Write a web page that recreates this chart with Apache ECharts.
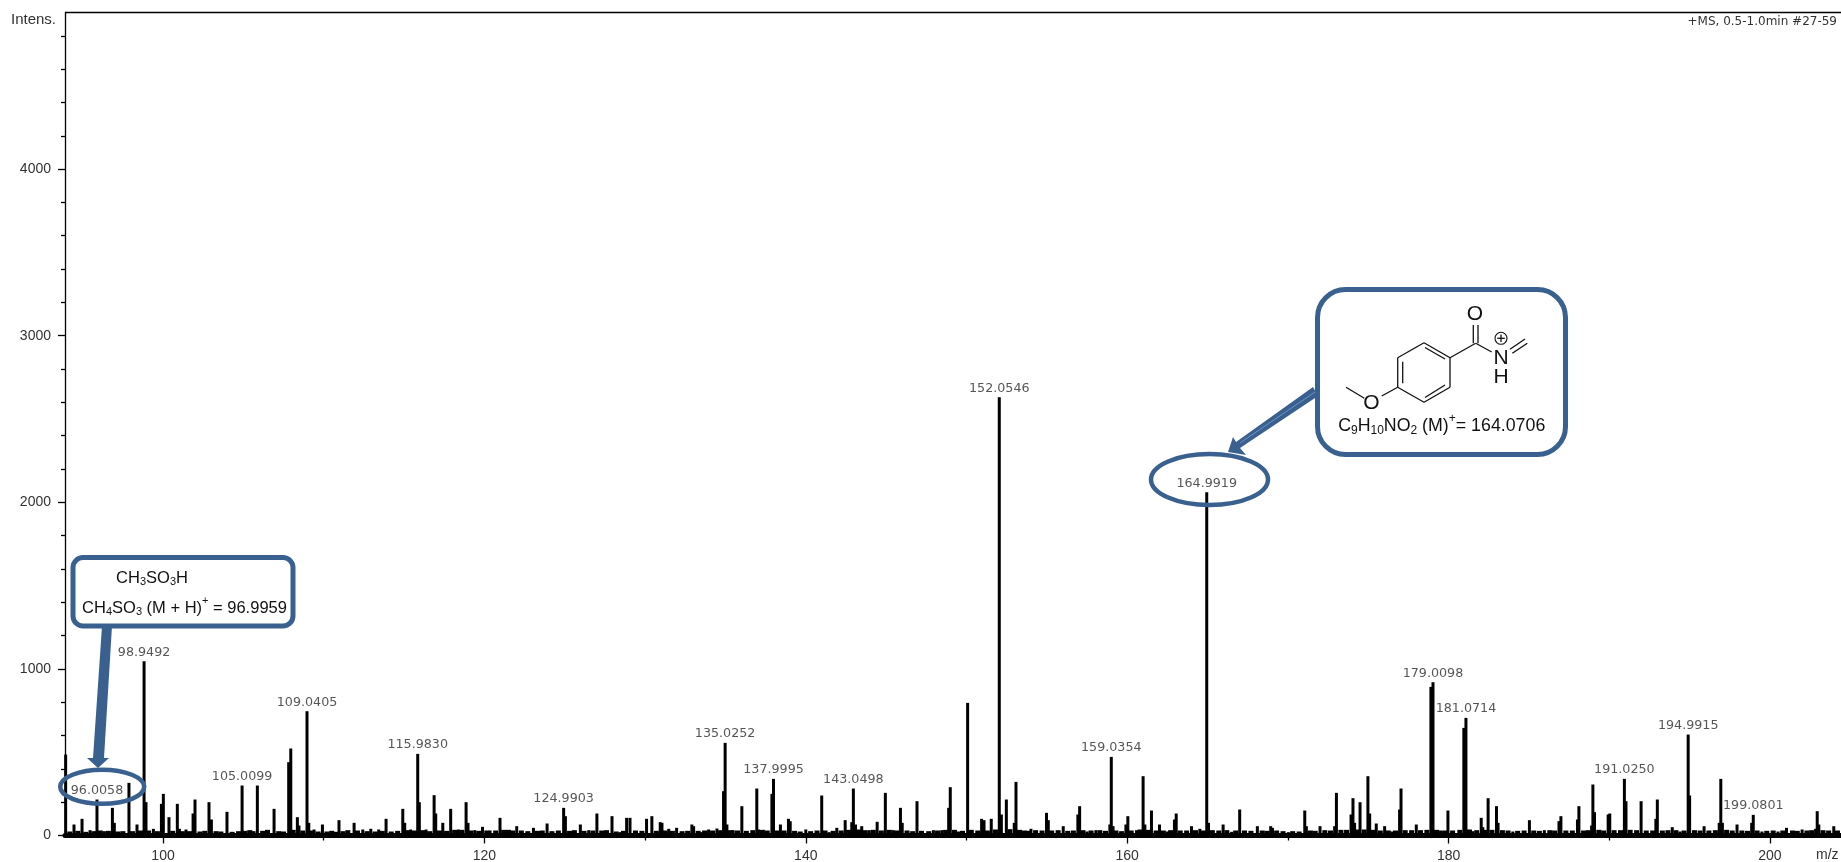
<!DOCTYPE html>
<html>
<head>
<meta charset="utf-8">
<title>MS spectrum</title>
<style>
html, body { margin: 0; padding: 0; background: #fff; }
#chart { width: 1841px; height: 862px; }
</style>
<script src="https://cdn.jsdelivr.net/npm/echarts@6/dist/echarts.min.js"></script>
</head>
<body>
<div id="chart"></div>
<script>
// [m/z, intensity]
const peaks094 = [[93.94,486],[94.46,66],[94.96,100],[95.46,32],[95.89,216],[96.35,26],[96.85,166],[96.97,76],[97.88,316],[98.38,66],[98.82,1046],[98.94,200],[99.4,40],[99.9,190],[100.02,250],[100.37,110],[100.89,190],[101.02,40],[101.43,36],[101.87,132],[101.99,216],[102.86,200],[103.01,96],[103.98,142],[104.92,300],[105.87,300],[106.91,160],[107.82,440],[107.95,522],[108.36,110],[108.46,60],[108.96,746],[109.07,76],[109.4,36],[109.92,66],[110.95,92],[111.89,76],[112.43,36],[112.93,40],[113.42,36],[113.88,100],[114.92,160],[115.04,76],[115.41,36],[115.85,490],[115.95,200],[116.37,36],[116.87,242],[116.97,132],[117.41,76],[117.9,160],[118.38,36],[118.86,200],[118.98,76],[119.4,32],[119.88,52]];
const peaks120 = [[120.35,30],[120.97,106],[122.01,56],[123.05,46],[123.9,72],[124.93,166],[125.04,116],[125.97,66],[126.49,32],[127,132],[127.94,116],[128.45,20],[128.85,106],[129.06,106],[130.09,100],[130.42,116],[130.94,80],[131.05,76],[131.47,40],[131.96,46],[132.91,66],[133.02,56],[133.5,20],[133.95,36],[134.47,42],[134.88,266],[134.98,556],[135.09,66],[135.48,32],[136.02,176],[136.95,282],[137.06,36],[137.89,250],[137.99,340],[138.42,66],[138.92,100],[139.03,86],[140,36],[140.99,240],[141.45,20],[141.93,46],[142.45,92],[142.86,80],[142.96,282],[143.09,66],[143.48,56],[143.95,32],[144.44,82],[144.95,256],[145.45,32],[145.89,166],[146,76],[146.92,206],[147.94,32],[148.46,32],[148.89,166],[148.99,290]];
const peaks150 = [[149.5,24],[150.07,796],[150.94,100],[151.09,92],[151.54,100],[152.04,2630],[152.17,126],[152.48,216],[152.97,76],[153.08,322],[154.01,40],[154.98,136],[155.09,92],[156.02,56],[156.93,126],[157.04,176],[157.5,24],[158.05,32],[158.92,66],[159.01,472],[159.12,56],[159.92,66],[160.04,116],[160.58,32],[160.99,356],[161.1,66],[161.51,150],[162.01,66],[162.5,24],[162.94,96],[163.05,132],[164,56],[164.52,40],[164.95,2060],[165.06,76],[165.97,66],[166.5,22],[167,156],[168.1,56],[168.93,56],[169.04,46],[170.03,20],[171.05,150],[171.15,56],[172,56],[172.91,56],[173.02,256],[173.93,126],[174.05,224],[174.15,76],[174.49,200],[174.98,356],[175.09,132],[175.5,72],[176.02,56],[176.5,24],[176.95,156],[177.04,282]];
const peaks178 = [[177.99,66],[178.9,892],[179.03,920],[179.5,30],[179.96,150],[180.95,646],[181.08,706],[181.5,26],[182.03,106],[182.13,50],[182.46,224],[182.98,176],[183.08,76],[184,24],[185.03,92],[185.96,32],[186.87,86],[186.99,116],[188.02,96],[188.11,176],[188.9,60],[188.98,306],[189.08,140],[189.93,126],[190.03,132],[190.94,340],[191.04,206],[191.98,206],[192.9,100],[192.99,216],[193.92,50],[194.4,24],[194.91,606],[195,240],[195.9,56],[196.84,76],[196.94,340],[197.04,76],[197.95,66],[198.86,76],[198.96,124],[199.5,24],[200.5,24],[201.03,46],[202,36],[202.84,40],[202.94,146],[203.04,66],[203.97,56]];
const allPeaks = peaks094.concat(peaks120, peaks150, peaks178);
// low grass along the baseline, estimated from the crops
const grass = [[94.2,24],[94.7,28],[95.2,22],[95.7,26],[96.1,30],[96.6,28],[97.2,24],[97.5,26],[98.1,26],[98.6,30],[99.1,30],[99.65,26],[100.6,28],[101.2,26],[101.65,26],[102.3,24],[102.6,28],[103.3,26],[103.6,24],[104.3,22],[104.7,26],[105.1,28],[105.4,32],[105.6,26],[106.2,28],[106.5,34],[107.2,26],[107.5,24],[108.1,34],[108.7,30],[109.2,30],[109.65,24],[110.2,24],[110.5,28],[110.75,22],[111.2,26],[111.5,32],[112.1,30],[112.7,26],[113.2,24],[113.65,28],[114.2,24],[114.6,28],[115.2,32],[115.65,30],[116.15,32],[116.6,26],[117.2,30],[117.65,28],[118.15,34],[118.6,34],[119.15,30],[119.65,28],[120.15,30],[120.7,30],[121.2,34],[121.5,34],[121.75,30],[122.3,30],[122.7,26],[123.3,28],[123.6,30],[124.2,26],[124.6,30],[125.3,28],[125.6,32],[126.2,28],[126.75,30],[127.3,30],[127.6,32],[128.2,24],[128.65,28],[129.4,30],[129.8,28],[130.7,28],[131.25,30],[131.7,28],[132.3,26],[132.65,28],[133.3,28],[133.7,30],[134.2,30],[134.7,32],[135.3,32],[135.75,30],[136.3,28],[136.7,32],[137.3,34],[137.6,30],[138.2,30],[138.65,30],[139.3,28],[139.65,24],[140.3,26],[140.7,30],[141.2,30],[141.7,28],[142.2,30],[142.65,34],[143.3,36],[143.7,32],[144.2,34],[144.7,30],[145.2,34],[145.65,30],[146.3,30],[146.65,26],[147.2,28],[147.65,26],[148.2,30],[148.7,34],[149.25,34],[149.75,28],[150.3,34],[150.7,30],[151.3,30],[151.8,36],[152.7,38],[153.3,34],[153.6,30],[153.85,28],[154.3,32],[154.7,30],[155.3,30],[155.7,32],[156.3,28],[156.65,30],[157.25,32],[157.75,30],[158.3,32],[158.65,28],[159.3,30],[159.65,26],[160.25,30],[160.8,36],[161.3,34],[161.8,30],[162.25,30],[162.7,32],[163.3,30],[163.7,30],[164.25,32],[164.75,30],[165.3,32],[165.7,30],[166.2,32],[166.75,30],[167.3,30],[167.7,28],[168.4,30],[168.7,28],[169.3,30],[169.7,26],[170.3,26],[170.7,24],[171.4,30],[171.7,28],[172.3,32],[172.65,30],[173.3,34],[173.65,34],[174.3,36],[174.75,36],[175.3,34],[175.75,30],[176.25,30],[176.7,30],[177.3,32],[177.7,32],[178.25,32],[178.65,34],[179.25,34],[179.75,30],[180.25,30],[180.7,34],[181.3,36],[181.75,32],[182.3,34],[182.7,34],[183.35,32],[183.7,30],[184.3,28],[184.7,30],[185.3,30],[185.65,28],[186.3,32],[186.6,30],[187.3,30],[187.7,30],[188.4,30],[188.7,32],[189.35,34],[189.65,30],[190.3,32],[190.7,32],[191.3,34],[191.7,32],[192.3,30],[192.7,30],[193.3,30],[193.65,32],[194.15,32],[194.65,30],[195.3,32],[195.65,30],[196.2,30],[196.6,32],[197.3,34],[197.65,30],[198.25,30],[198.6,28],[199.2,30],[199.8,28],[200.2,30],[200.8,30],[201.4,30],[201.7,28],[202.3,30],[202.6,32],[203.3,32],[203.65,30],[204.2,30]];

// labelled peaks: m/z position, intensity, printed mass
const labelMz = [95.89,98.82,104.92,108.96,115.85,124.93,134.98,137.99,142.96,152.04,159.01,164.95,179.03,181.08,190.94,194.91,198.96];
const labelIntens = [216,1046,300,746,490,166,556,340,282,2630,472,2060,920,706,340,606,124];
const labelText = ['96.0058','98.9492','105.0099','109.0405','115.9830','124.9903','135.0252','137.9995','143.0498','152.0546','159.0354','164.9919','179.0098','181.0714','191.0250','194.9915','199.0801'];

const xTicks = [100,120,140,160,180,200];
const xMinorTicks = [110,130,150,170,190];
const yTicks = [0,1000,2000,3000,4000];
const yMinorTicks = [200,400,600,800,1200,1400,1600,1800,2200,2400,2600,2800,3200,3400,3600,3800,4200,4400,4600,4800];

const blue = '#3a6090';
const ink = '#111';

function bond(x1, y1, x2, y2) {
    return { type: 'line', silent: true, z: 12, shape: { x1: x1, y1: y1, x2: x2, y2: y2 }, style: { stroke: ink, lineWidth: 1.3 } };
}
function chemText(x, y, text, main, sub) {
    return {
        type: 'text', silent: true, z: 12, x: x, y: y,
        style: {
            text: text, align: 'center', verticalAlign: 'middle',
            font: main + 'px "Liberation Sans"', fill: ink,
            rich: {
                m: { fontFamily: 'Liberation Sans', fontSize: main, lineHeight: main + 8, fill: ink },
                s: { fontFamily: 'Liberation Sans', fontSize: sub, lineHeight: sub, verticalAlign: 'bottom', padding: [0, 0, 2.5, 0], fill: ink },
                u: { fontFamily: 'Liberation Sans', fontSize: sub, lineHeight: sub, verticalAlign: 'top', fill: ink }
            }
        }
    };
}

const graphics = [
    // top frame line
    { type: 'line', silent: true, shape: { x1: 65, y1: 12.5, x2: 1841, y2: 12.5 }, style: { stroke: '#000', lineWidth: 1.3 } },
    { type: 'text', silent: true, x: 11, y: 20, style: { text: 'Intens.', font: '15px "Liberation Sans"', fill: '#333', verticalAlign: 'middle' } },
    { type: 'text', silent: true, x: 1837, y: 22, style: { text: '+MS, 0.5-1.0min #27-59', font: '12px "DejaVu Sans"', fill: '#333', align: 'right', verticalAlign: 'middle' } },
    { type: 'text', silent: true, x: 1816, y: 855, style: { text: 'm/z', font: '14px "Liberation Sans"', fill: '#333', verticalAlign: 'middle' } },

    // left callout
    { type: 'polygon', silent: true, z: 10, shape: { points: [[102,626],[112,626],[104,758],[109,758],[98,768],[87,758],[93,758]] }, style: { fill: blue } },
    { type: 'rect', silent: true, z: 11, shape: { x: 73, y: 557.5, width: 220, height: 68.5, r: 10 }, style: { fill: '#fff', stroke: blue, lineWidth: 5 } },
    { type: 'ellipse', silent: true, z: 11, shape: { cx: 102.2, cy: 786.8, rx: 42, ry: 17 }, style: { fill: 'none', stroke: blue, lineWidth: 4.5 } },
    chemText(152, 578, '{m|CH}{s|3}{m|SO}{s|3}{m|H}', 16.5, 11),
    chemText(184.5, 608, '{m|CH}{s|4}{m|SO}{s|3}{m| (M + H)}{u|+}{m| = 96.9959}', 16.5, 11),

    // right callout
    { type: 'polygon', silent: true, z: 10, shape: { points: [[1313,387],[1318,396],[1240,448],[1246,455],[1228,452],[1233,437],[1236,442]] }, style: { fill: blue } },
    { type: 'line', silent: true, z: 10, shape: { x1: 1315, y1: 392, x2: 1240, y2: 443 }, style: { stroke: '#6f93c4', lineWidth: 1 } },
    { type: 'rect', silent: true, z: 11, shape: { x: 1317.5, y: 289.5, width: 248, height: 165, r: 28 }, style: { fill: '#fff', stroke: blue, lineWidth: 5 } },
    { type: 'ellipse', silent: true, z: 11, shape: { cx: 1209.5, cy: 479.5, rx: 58.5, ry: 25.5 }, style: { fill: 'none', stroke: blue, lineWidth: 4.5 } },
    chemText(1441.7, 426, '{m|C}{s|9}{m|H}{s|10}{m|NO}{s|2}{m| (M)}{u|+}{m|= 164.0706}', 17.8, 12),

    // structure: ring
    bond(1424,342.7,1450,357.7), bond(1450,357.7,1450,387.3), bond(1450,387.3,1424,402.3),
    bond(1424,402.3,1397.7,387.3), bond(1397.7,387.3,1397.7,357.7), bond(1397.7,357.7,1424,342.7),
    bond(1425,347.5,1445,359), bond(1425,397.5,1445,385), bond(1402.7,361.7,1402.7,383.3),
    // OMe and carbonyl
    bond(1397.7,387.3,1381.7,396), bond(1346,387.3,1364.3,398.3),
    bond(1450,357.7,1475.7,343.3), bond(1473.3,343.3,1473.3,325), bond(1478,343.3,1478,325),
    bond(1475.7,343.3,1491.7,352),
    // N=CH2
    bond(1510,349.3,1525,339), bond(1512.3,353.3,1527.3,343.3),
    chemText(1371.5,403.5,'O',21,12), chemText(1475,314.5,'O',21,12),
    chemText(1501,358.5,'N',21,12), chemText(1501,377.5,'H',21,12),
    { type: 'circle', silent: true, z: 12, shape: { cx: 1501, cy: 338.3, r: 6 }, style: { fill: 'none', stroke: ink, lineWidth: 1.1 } },
    bond(1497.2,338.3,1504.8,338.3), bond(1501,334.5,1501,342.1)
];

const option = {
    animation: false,
    backgroundColor: '#fff',
    grid: { left: 65, right: 0, top: 12.5, bottom: 26.5, containLabel: false, outerBoundsMode: 'none' },
    xAxis: [
        {
            type: 'value', min: 93.9, max: 204.42, position: 'bottom',
            splitLine: { show: false },
            axisLine: { lineStyle: { color: '#000', width: 5 } },
            axisTick: { customValues: xTicks, length: 8, lineStyle: { color: '#000', width: 1.3 } },
            axisLabel: { customValues: xTicks, margin: 14, color: '#333', fontFamily: 'Liberation Sans', fontSize: 14 }
        },
        {
            type: 'value', min: 93.9, max: 204.42, position: 'bottom',
            splitLine: { show: false },
            axisLine: { show: false },
            axisTick: { customValues: xMinorTicks, length: 5, lineStyle: { color: '#000', width: 1.3 } },
            axisLabel: { show: false }
        }
    ],
    yAxis: [
        {
            type: 'value', min: 0, max: 4940, position: 'left',
            splitLine: { show: false },
            axisLine: { lineStyle: { color: '#000', width: 1.3 } },
            axisTick: { customValues: yTicks, length: 7, lineStyle: { color: '#000', width: 1.3 } },
            axisLabel: { customValues: yTicks, margin: 14, color: '#333', fontFamily: 'Liberation Sans', fontSize: 14, formatter: v => String(v) }
        },
        {
            type: 'value', min: 0, max: 4940, position: 'left',
            splitLine: { show: false },
            axisLine: { show: false },
            axisTick: { customValues: yMinorTicks, length: 4, lineStyle: { color: '#000', width: 1.3 } },
            axisLabel: { show: false }
        }
    ],
    series: [
        {
            name: 'spectrum',
            type: 'bar',
            barWidth: 3,
            itemStyle: { color: '#000' },
            data: allPeaks
        },
        {
            // on the second x axis so its wider bars lay out on their own
            name: 'grass',
            type: 'bar',
            xAxisIndex: 1,
            barWidth: 5,
            itemStyle: { color: '#000' },
            data: grass
        },
        {
            // mass labels above the peaks
            name: 'labels',
            type: 'scatter',
            symbolSize: 0,
            data: labelMz.map((m, i) => [m, labelIntens[i], labelText[i]]),
            label: {
                show: true,
                position: 'top',
                distance: 2.5,
                formatter: p => p.value[2],
                color: '#2b2b2b',
                fontFamily: 'DejaVu Sans',
                fontSize: 12.7
            }
        }
    ],
    graphic: graphics
};

const chart = echarts.init(document.getElementById('chart'));
chart.setOption(option);
</script>
</body>
</html>
